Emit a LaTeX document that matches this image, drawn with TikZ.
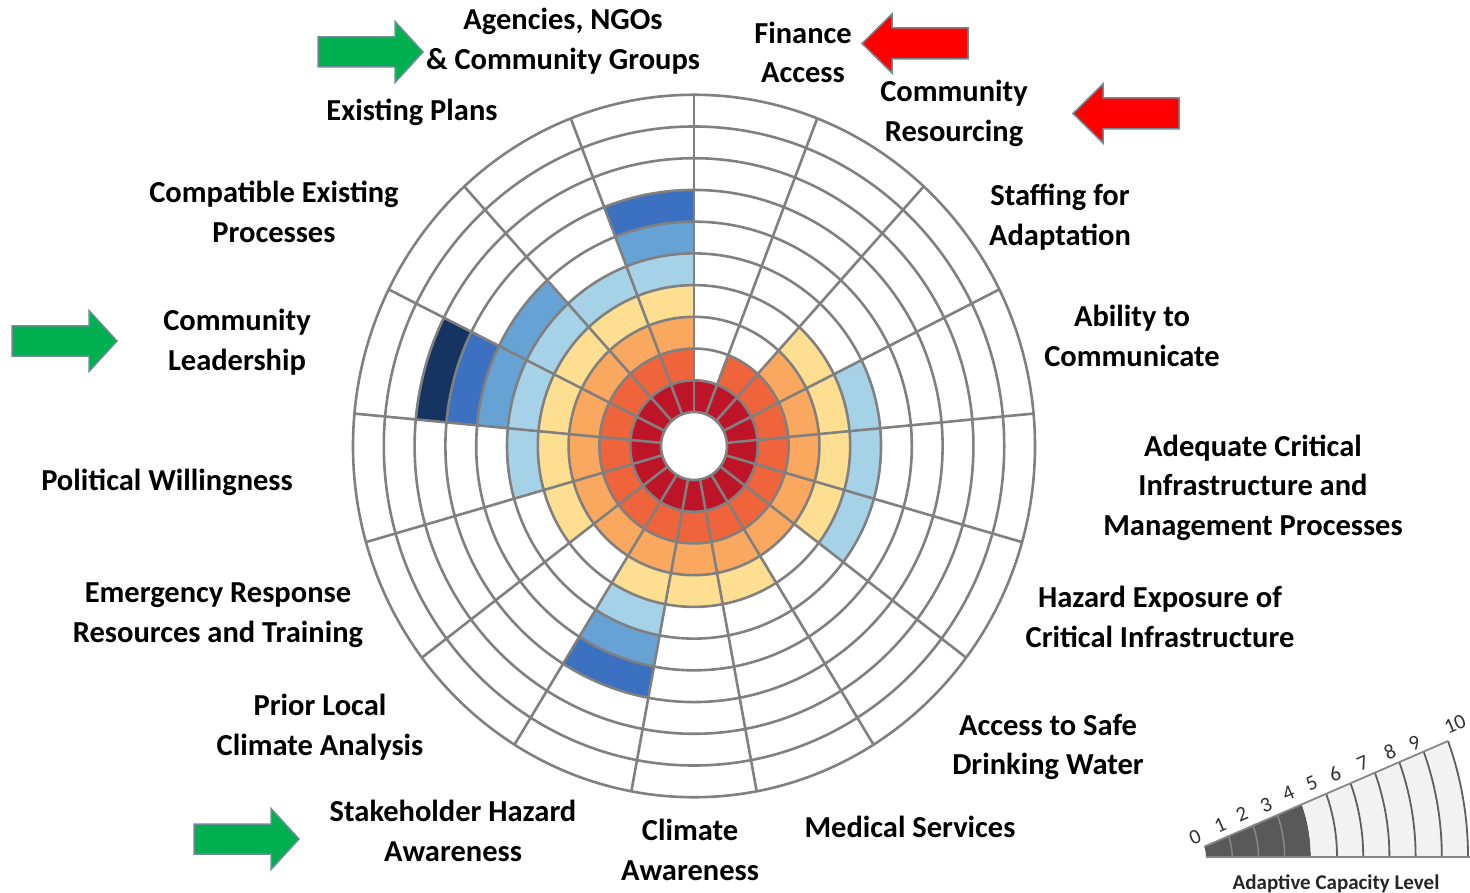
\documentclass[tikz,border=0pt]{standalone}
\usepackage{fontspec}
\setmainfont{Carlito}
\definecolor{ring1}{RGB}{190,20,40}
\definecolor{ring2}{RGB}{240,100,60}
\definecolor{ring3}{RGB}{250,168,95}
\definecolor{ring4}{RGB}{254,222,145}
\definecolor{ring5}{RGB}{166,210,232}
\definecolor{ring6}{RGB}{102,162,212}
\definecolor{ring7}{RGB}{60,112,192}
\definecolor{ring8}{RGB}{22,52,98}
\definecolor{gridgray}{RGB}{128,128,128}
\definecolor{arrgreen}{RGB}{0,176,80}
\definecolor{arrred}{RGB}{255,0,0}
\definecolor{arrline}{RGB}{110,140,150}
\definecolor{legdark}{RGB}{89,89,89}
\definecolor{leglight}{RGB}{242,242,242}
\definecolor{legline}{RGB}{95,95,95}
\definecolor{legsep}{RGB}{135,135,135}
\definecolor{legtext}{RGB}{50,50,50}
\begin{document}
\begin{tikzpicture}[x=1pt,y=1pt,
  lab/.style={font=\fontsize{30.5}{39.5}\selectfont\bfseries, align=center, inner sep=0pt, text=black},
  gridline/.style={draw=gridgray, line width=2.6pt},
  garrow/.style={fill=arrgreen, draw=arrline, line width=1.5pt, line join=miter},
  rarrow/.style={fill=arrred, draw=arrline, line width=1.5pt, line join=miter},
  legnum/.style={font=\fontsize{21}{21}\selectfont, text=legtext, rotate=23.5, inner sep=0pt},
  legarc/.style={draw=legline, line width=1.8pt},
  legsepline/.style={draw=legsep, line width=1.5pt},
  greenarr/.pic={\filldraw[garrow] (0,15) -- (77,15) -- (77,30.5) -- (105,0) -- (77,-30.5) -- (77,-15) -- (0,-15) -- cycle;},
  redarr/.pic={\filldraw[rarrow] (0,0) -- (30,29.5) -- (30,15.5) -- (106,15.5) -- (106,-15.5) -- (30,-15.5) -- (30,-29.5) -- cycle;}
]
\useasboundingbox (0,0) rectangle (1470,-893);
\fill[white] (0,0) rectangle (1470,-893);

% ---------- polar chart ----------
\begin{scope}[shift={(694,-446)}, yscale=1.03]
  \foreach \lev [count=\k from 0] in {1,2,4,5,5,5,3,4,4,7,3,4,5,8,6,5,7}{
    \pgfmathsetmacro\ta{90-(\k+1)*360/17}
    \pgfmathsetmacro\tb{90-\k*360/17}
    \foreach \j in {1,...,\lev}{
      \pgfmathsetmacro\ri{33+30.8*(\j-1)}
      \pgfmathsetmacro\ro{33+30.8*\j}
      \fill[ring\j] (\ta:\ri) arc[start angle=\ta, end angle=\tb, radius=\ri]
        -- (\tb:\ro) arc[start angle=\tb, end angle=\ta, radius=\ro] -- cycle;
    }
  }
  \foreach \j in {0,...,10}{
    \pgfmathsetmacro\rr{33+30.8*\j}
    \draw[gridline] (0,0) circle[radius=\rr];
  }
  \foreach \k in {0,...,16}{
    \pgfmathsetmacro\tt{90-\k*360/17}
    \draw[gridline] (\tt:33) -- (\tt:340.8);
  }
\end{scope}

% ---------- labels ----------
\node[lab] (agencies) at (563,-41.5) {\strut Agencies, NGOs\\\strut\& Community Groups};
\node[lab] (finance) at (803,-55) {\strut Finance\\\strut Access};
\node[lab] (resourcing) at (954,-113.5) {\strut Community\\\strut Resourcing};
\node[lab] (staffing) at (1060,-217.5) {\strut Staffing for\\\strut Adaptation};
\node[lab] (communicate) at (1132,-338.5) {\strut Ability to\\\strut Communicate};
\node[lab] (infra) at (1253,-488) {\strut Adequate Critical\\\strut Infrastructure and\\\strut Management Processes};
\node[lab] (hazard) at (1160,-619.5) {\strut Hazard Exposure of\\\strut Critical Infrastructure};
\node[lab] (water) at (1048,-747) {\strut Access to Safe\\\strut Drinking Water};
\node[lab] (medical) at (910,-830) {\strut Medical Services};
\node[lab] (climate) at (690,-852.5) {\strut Climate\\\strut Awareness};
\node[lab] (stakeholder) at (453,-833.5) {\strut Stakeholder Hazard\\\strut Awareness};
\node[lab] (prior) at (320,-727.5) {\strut Prior Local\\\strut Climate Analysis};
\node[lab] (emergency) at (218,-614.5) {\strut Emergency Response\\\strut Resources and Training};
\node[lab] (political) at (167,-483) {\strut Political Willingness};
\node[lab] (leadership) at (237,-342.5) {\strut Community\\\strut Leadership};
\node[lab] (compatible) at (274,-214.5) {\strut Compatible Existing\\\strut Processes};
\node[lab] (plans) at (412,-113) {\strut Existing Plans};

% ---------- block arrows ----------
\pic at (318,-52) {greenarr};
\pic at (12,-341) {greenarr};
\pic at (194,-839) {greenarr};
\pic at (862,-43.5) {redarr};
\pic at (1073,-113.5) {redarr};

% ---------- legend ----------
\begin{scope}[shift={(1181,-856.7)}, yscale=1.1]
  \fill[legdark] (0:25) arc[start angle=0, end angle=21.5, radius=25]
    -- (21.5:129.8) arc[start angle=21.5, end angle=0, radius=129.8] -- cycle;
  \fill[leglight] (0:129.8) arc[start angle=0, end angle=21.5, radius=129.8]
    -- (21.5:287) arc[start angle=21.5, end angle=0, radius=287] -- cycle;
  \foreach \k in {1,2,3}{
    \pgfmathsetmacro\rr{25+26.2*\k}
    \draw[legsepline] (0:\rr) arc[start angle=0, end angle=21.5, radius=\rr];
  }
  \foreach \k in {5,...,10}{
    \pgfmathsetmacro\rr{25+26.2*\k}
    \draw[legarc] (0:\rr) arc[start angle=0, end angle=21.5, radius=\rr];
  }
  \draw[draw=legsep, line width=1.8pt] (21.5:25) -- (21.5:287);
  \draw[draw=legsep, line width=1.8pt] (0:25) -- (0:292);
\end{scope}
\foreach \t/\x/\y in {0/1195/836.7, 1/1220/825, 2/1241.7/814.3, 3/1266/805, 4/1288.3/793.3,
  5/1311.7/783.3, 6/1335/774, 7/1362.7/763.3, 8/1390/751.7, 9/1414.5/743.5, 10/1455/724.5}{
  \node[legnum] (num\t) at (\x,-\y) {\t};
}
\node[font=\fontsize{21}{21}\selectfont\bfseries, text=black!85, anchor=base, inner sep=0pt] (legcap) at (1336,-889) {Adaptive Capacity Level};
\end{tikzpicture}
\end{document}
